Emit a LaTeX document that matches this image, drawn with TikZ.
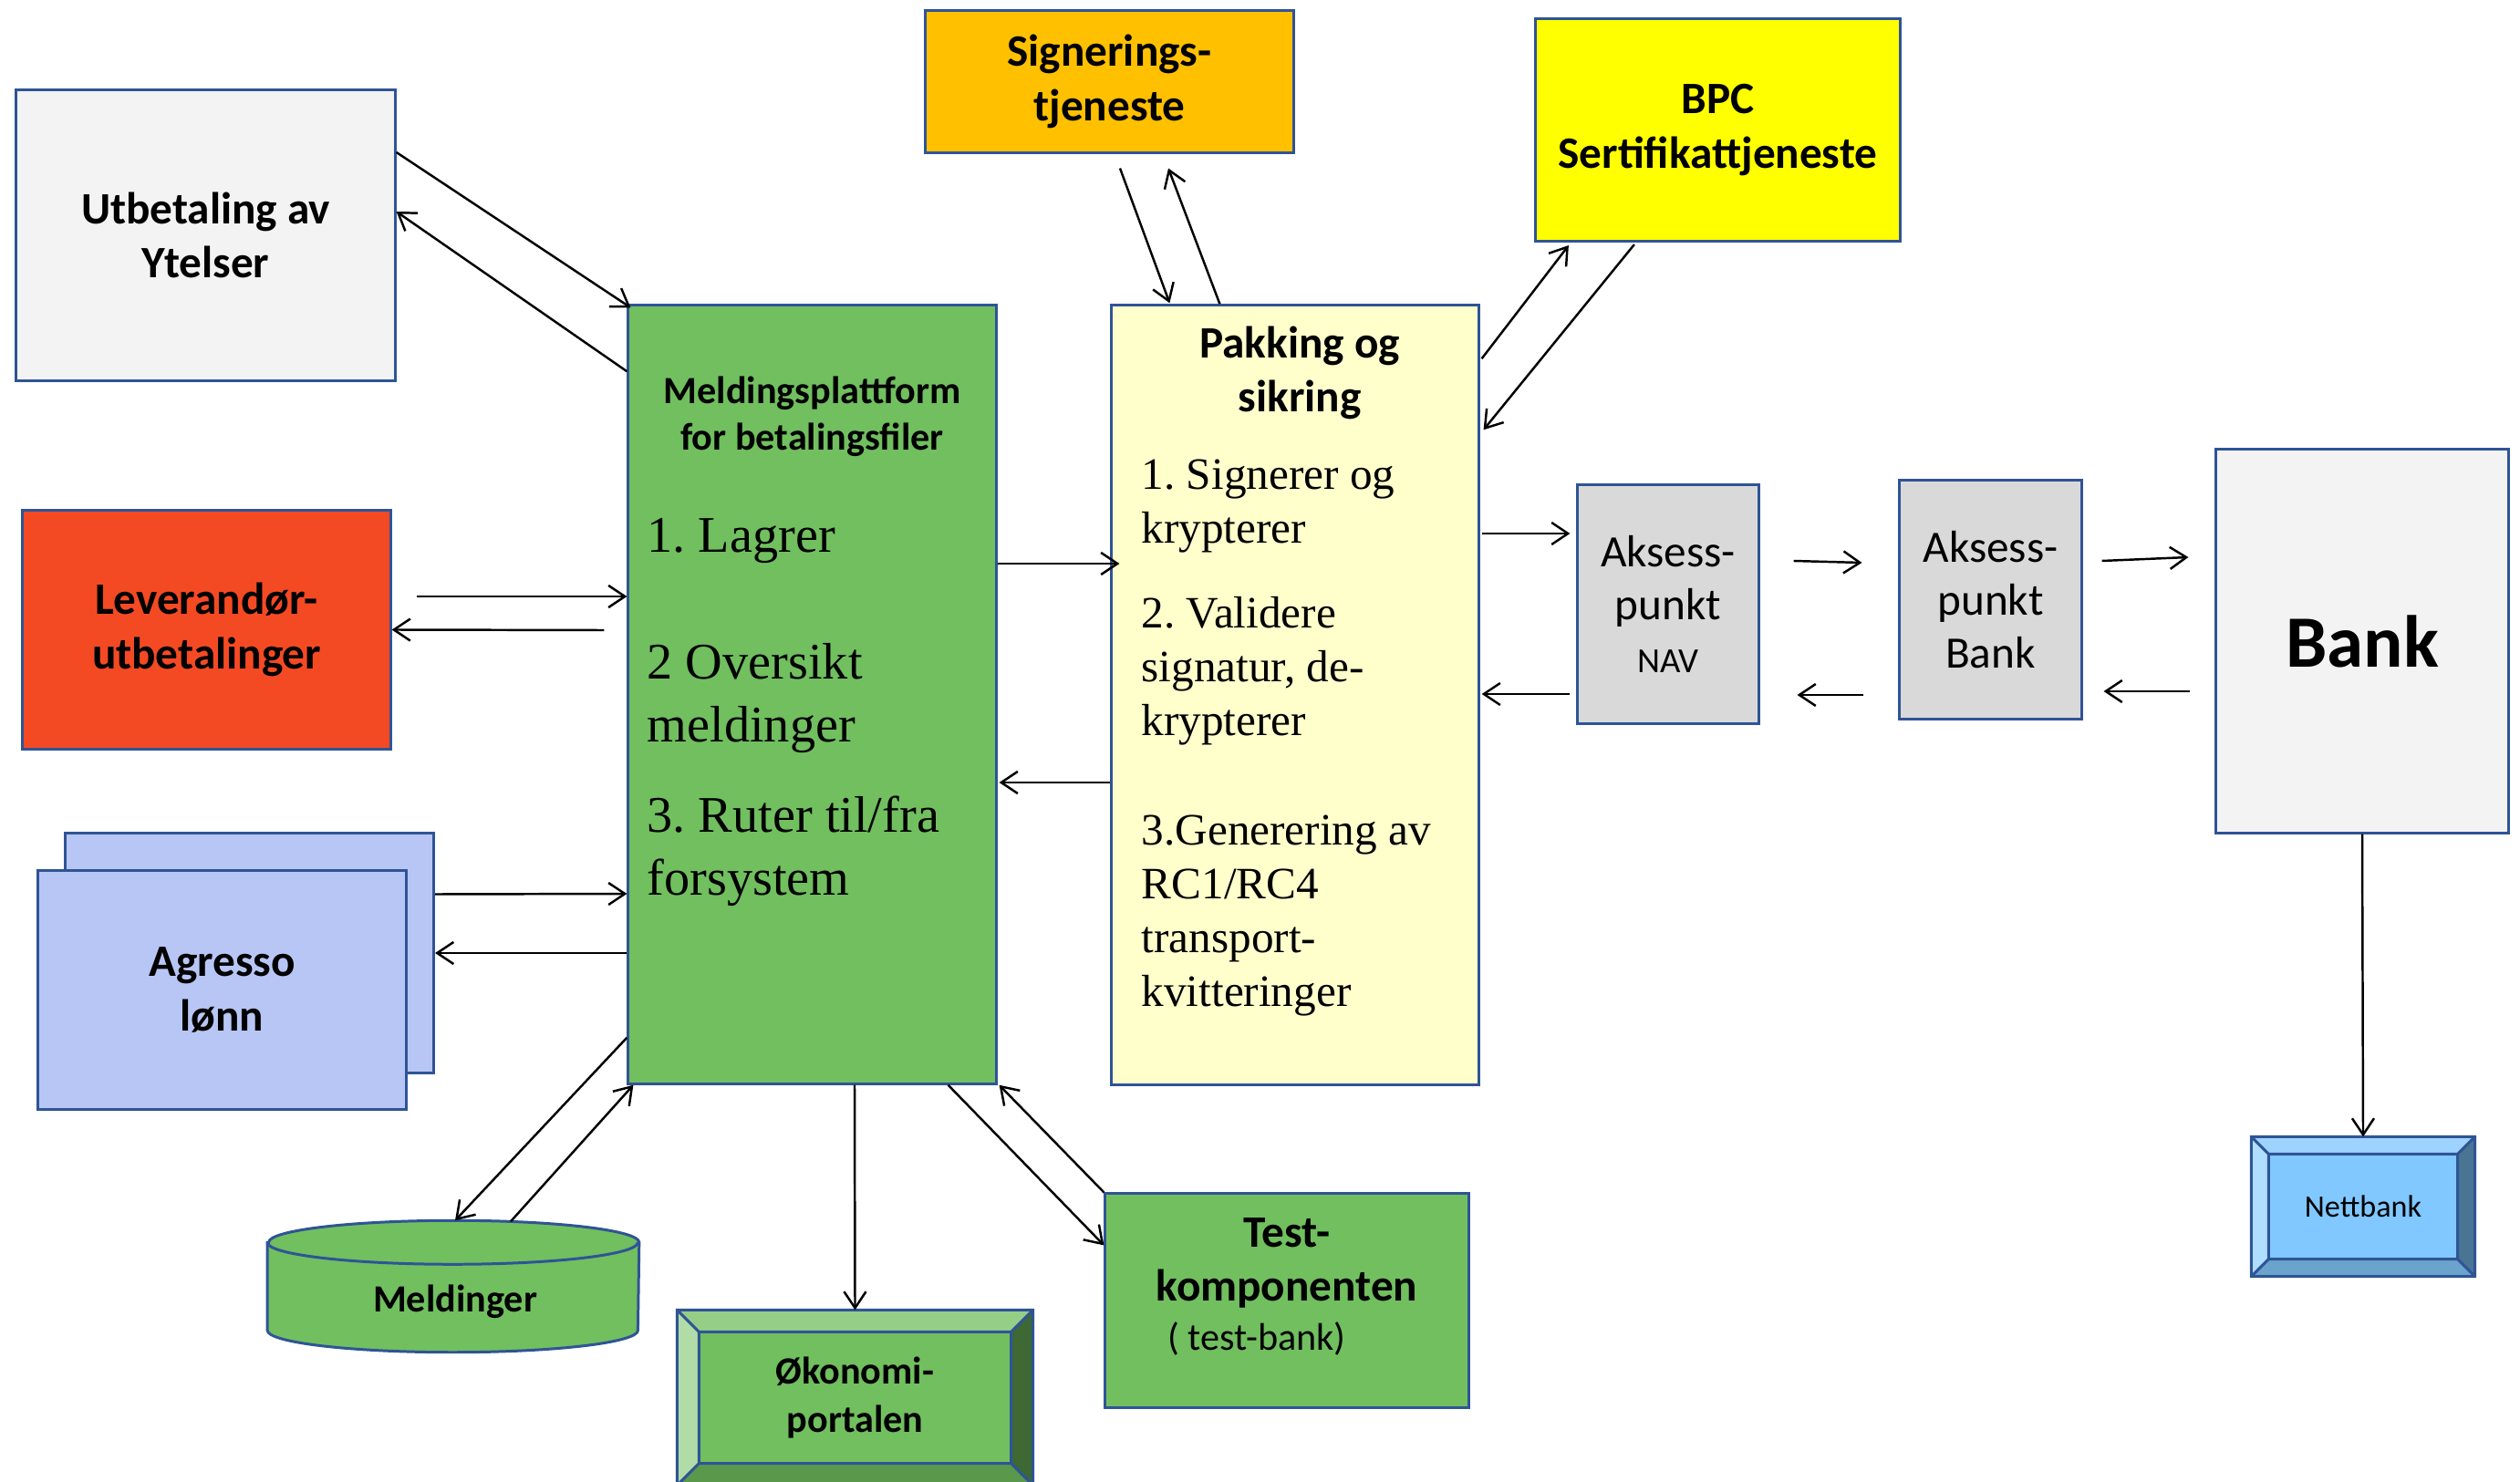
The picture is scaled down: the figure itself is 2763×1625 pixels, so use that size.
\documentclass[tikz,border=0pt]{standalone}
\usepackage{fontspec}
\setmainfont{Liberation Serif}
\newfontfamily\carl{Carlito}
\frenchspacing
\usetikzlibrary{arrows.meta}
\definecolor{bordblue}{HTML}{2F5496}
\definecolor{ytelgray}{HTML}{F3F3F3}
\definecolor{levred}{HTML}{F44A24}
\definecolor{agrblue}{HTML}{B7C6F5}
\definecolor{mgreen}{HTML}{71BF5F}
\definecolor{pakyellow}{HTML}{FFFFCC}
\definecolor{sigorange}{HTML}{FFC000}
\definecolor{bpcyellow}{HTML}{FFFF00}
\definecolor{aksgray}{HTML}{D9D9D9}
\definecolor{nettblue}{HTML}{80C8FF}
\tikzset{
  box/.style={draw=bordblue, line width=0.85pt, inner sep=0pt, align=center},
  ttl/.style={font=\carl\bfseries\fontsize{14}{17}\selectfont},
  arr/.style={-{Straight Barb[length=1.8mm,width=2.4mm]}, line width=0.7pt},
}
\newcommand\bevelbox[6]{%
  \fill[#3] (#1.north west) -- (#1.north east) -- ([shift={(-#2,#2)}]#1.north east) -- ([shift={(#2,#2)}]#1.north west) -- cycle;
  \fill[#4] (#1.north west) -- ([shift={(#2,#2)}]#1.north west) -- ([shift={(#2,-#2)}]#1.south west) -- (#1.south west) -- cycle;
  \fill[#5] (#1.north east) -- (#1.south east) -- ([shift={(-#2,-#2)}]#1.south east) -- ([shift={(-#2,#2)}]#1.north east) -- cycle;
  \fill[#6] (#1.south west) -- ([shift={(#2,-#2)}]#1.south west) -- ([shift={(-#2,-#2)}]#1.south east) -- (#1.south east) -- cycle;
  \draw[bordblue, line width=0.85pt] (#1.north west) rectangle (#1.south east)
    ([shift={(#2,#2)}]#1.north west) rectangle ([shift={(-#2,-#2)}]#1.south east)
    (#1.north west) -- ++(#2,#2) (#1.north east) -- ++(-#2,#2)
    (#1.south west) -- ++(#2,-#2) (#1.south east) -- ++(-#2,-#2);
}
\begin{document}
\begin{tikzpicture}[x=0.01cm,y=-0.01cm]
\useasboundingbox (0,0) rectangle (2763,1625);
\node[box, ttl, fill=ytelgray, minimum width=4.15cm, minimum height=3.19cm] (ytel) at (225.5,258) {Utbetaling av\\Ytelser};
\node[box, ttl, fill=levred, minimum width=4.03cm, minimum height=2.61cm] (lev) at (226.5,690.5) {Leverandør-\\utbetalinger};
\node[box, fill=agrblue, minimum width=4.04cm, minimum height=2.62cm] (agrback) at (273.5,1045) {};
\node[box, ttl, fill=agrblue, minimum width=4.04cm, minimum height=2.62cm] (agr) at (243.5,1085.5) {Agresso\\lønn};
\node[box, fill=mgreen, minimum width=4.03cm, minimum height=8.53cm] (mld) at (890.5,761.5) {};
\node[font=\carl\bfseries\fontsize{12}{14.5}\selectfont, align=center] (mldttl) at (890.5,457) {Meldingsplattform\\for betalingsfiler};
\node[font=\fontsize{16}{19.6}\selectfont, align=left, anchor=west, inner sep=0pt] (mldlist) at (709,781)
  {1. Lagrer\\[19.9pt]2 Oversikt\\meldinger\\[8.8pt]3. Ruter til/fra\\forsystem};
\node[box, fill=pakyellow, minimum width=4.02cm, minimum height=8.54cm] (pak) at (1420,762) {};
\node[ttl, align=center] (pakttl) at (1425,409) {Pakking og\\sikring};
\node[font=\fontsize{14}{16.8}\selectfont, align=left, anchor=west, inner sep=0pt] (paklist) at (1251,809)
  {1. Signerer og\\krypterer\\[9.7pt]2. Validere\\signatur, de-\\krypterer\\[17.4pt]3.Generering av\\RC1/RC4\\transport-\\kvitteringer};
\node[box, ttl, fill=sigorange, minimum width=4.03cm, minimum height=1.55cm] (sig) at (1216.5,89.5) {Signerings-\\tjeneste};
\node[box, ttl, fill=bpcyellow, minimum width=4.0cm, minimum height=2.44cm] (bpc) at (1883.5,142.5) {BPC\\Sertifikattjeneste};
\node[box, fill=aksgray, minimum width=1.98cm, minimum height=2.61cm, font=\carl\fontsize{14}{16.5}\selectfont] (nav) at (1829,662.5)
  {Aksess-\\punkt\\{\fontsize{11}{13}\selectfont NAV}};
\node[box, fill=aksgray, minimum width=1.99cm, minimum height=2.61cm, font=\carl\fontsize{14}{16.5}\selectfont] (apb) at (2182.5,657.5)
  {Aksess-\\punkt\\Bank};
\node[box, fill=ytelgray, minimum width=3.2cm, minimum height=4.2cm, font=\carl\bfseries\fontsize{23}{27}\selectfont] (bank) at (2590,703) {Bank};
\node[box, fill=nettblue, minimum width=2.42cm, minimum height=1.5cm, font=\carl\fontsize{9.7}{11}\selectfont] (nett) at (2591,1323) {Nettbank};
\bevelbox{nett}{19}{fill={rgb,255:red,158;green,211;blue,255}}{fill={rgb,255:red,176;green,222;blue,255}}{fill={rgb,255:red,74;green,117;blue,146}}{fill={rgb,255:red,106;green,163;blue,204}}
\node[box, fill=mgreen, minimum width=3.87cm, minimum height=1.89cm, font=\carl\bfseries\fontsize{12}{15}\selectfont] (oek) at (937.5,1532.5) {Økonomi-\\portalen};
\bevelbox{oek}{24}{fill=mgreen!75!white}{fill=mgreen!55!white}{fill=mgreen!55!black}{fill=mgreen!80!black}
\node[minimum width=4.06cm, minimum height=0.95cm, inner sep=0pt] (db) at (497,1410.5) {};
\draw[bordblue, line width=0.85pt, fill=mgreen] (db.north west) -- (db.south west)
  arc[start angle=180, end angle=360, x radius=2.03cm, y radius=0.24cm] -- (db.north east)
  arc[start angle=0, end angle=180, x radius=2.03cm, y radius=0.24cm] -- cycle;
\draw[bordblue, line width=0.85pt] (db.north west) arc[start angle=180, end angle=360, x radius=2.03cm, y radius=0.24cm];
\node[font=\carl\bfseries\fontsize{12}{14}\selectfont] (dbttl) at (499,1427) {Meldinger};
\node[box, fill=mgreen, minimum width=3.98cm, minimum height=2.34cm] (test) at (1411,1426) {};
\node[ttl, align=center] (testttl) at (1411,1385) {Test-\\komponenten};
\node[font=\carl\fontsize{12}{14}\selectfont] (testsub) at (1378,1468) {( test-bank)};

\draw[arr] ([shift={(0,-91)}]ytel.east) -- ([shift={(4,4)}]mld.north west);
\draw[arr] ([shift={(0,74)}]mld.north west) -- ([shift={(0,-26)}]ytel.east);
\draw[arr] ([shift={(27,-36.5)}]lev.east) -- ([shift={(0,-107.5)}]mld.west);
\draw[arr] ([shift={(-25,-70.5)}]mld.west) -- (lev.east);
\draw[arr] ([shift={(0,-64.5)}]agrback.east) -- ([shift={(0,218.5)}]mld.west);
\draw[arr] ([shift={(0,283.5)}]mld.west) -- (agrback.east);
\draw[arr] ([shift={(0,-52)}]mld.south west) -- ([shift={(2,-24)}]db.north);
\draw[arr] ([shift={(63,-23)}]db.north) -- ([shift={(7,0)}]mld.south west);
\draw[arr] ([shift={(46.5,0)}]mld.south) -- (oek.north);
\draw[arr] ([shift={(-54,0)}]mld.south east) -- ([shift={(0,58)}]test.north west);
\draw[arr] (test.north west) -- ([shift={(2,0)}]mld.south east);
\draw[arr] ([shift={(0,-143.5)}]mld.east) -- ([shift={(10,-144)}]pak.west);
\draw[arr] ([shift={(0,96)}]pak.west) -- ([shift={(2,96.5)}]mld.east);
\draw[arr] ([shift={(11.5,16)}]sig.south) -- ([shift={(65,-1)}]pak.north west);
\draw[arr] ([shift={(120,0)}]pak.north west) -- ([shift={(64.5,16)}]sig.south);
\draw[arr] ([shift={(2,60)}]pak.north east) -- ([shift={(38,3)}]bpc.south west);
\draw[arr] ([shift={(110,2)}]bpc.south west) -- ([shift={(4,138)}]pak.north east);
\draw[arr] ([shift={(2,-177)}]pak.east) -- ([shift={(-7,-77.5)}]nav.west);
\draw[arr] ([shift={(-7,98.5)}]nav.west) -- ([shift={(2,-1)}]pak.east);
\draw[arr] ([shift={(37,-47.5)}]nav.east) -- ([shift={(-40,-40.5)}]apb.west);
\draw[arr] ([shift={(-38,104.5)}]apb.west) -- ([shift={(41,99.5)}]nav.east);
\draw[arr] ([shift={(21,-42.5)}]apb.east) -- ([shift={(-29,-92)}]bank.west);
\draw[arr] ([shift={(-27,55)}]bank.west) -- ([shift={(23,100.5)}]apb.east);
\draw[arr] (bank.south) -- (nett.north);
\end{tikzpicture}
\end{document}
